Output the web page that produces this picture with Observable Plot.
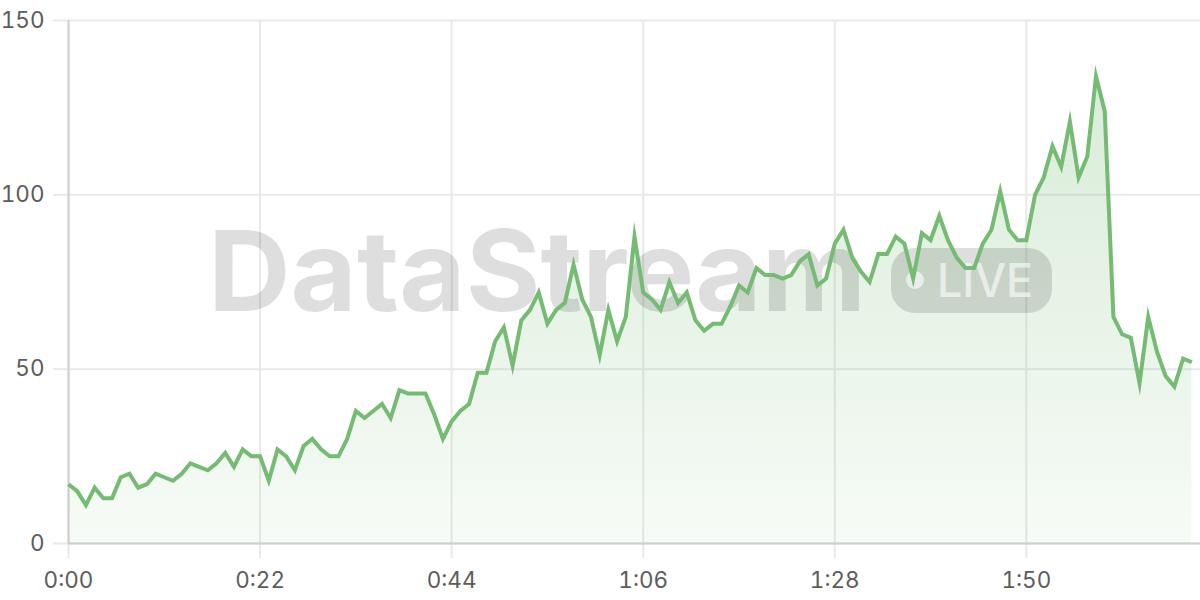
<!DOCTYPE html>
<html>
<head>
<meta charset="utf-8">
<script src="https://cdn.jsdelivr.net/npm/d3@7"></script>
<script src="https://cdn.jsdelivr.net/npm/@observablehq/plot@0.6"></script>
<style>
  html, body { margin: 0; padding: 0; background: #ffffff; }
  #chart { width: 1200px; height: 600px; overflow: hidden; }
</style>
</head>
<body>
<div id="chart"></div>
<script>
// Values per second, 0:00 .. 2:09
const values = [
  17, 15, 11, 16, 13, 13, 19, 20, 16, 17,
  20, 19, 18, 20, 23, 22, 21, 23, 26, 22,
  27, 25, 25, 18, 27, 25, 21, 28, 30, 27,
  25, 25, 30, 38, 36, 38, 40, 36, 44, 43,
  43, 43, 37, 30, 35, 38, 40, 49, 49, 58,
  62, 51, 64, 67, 72, 63, 67, 69, 80, 70,
  65, 54, 67, 58, 65, 88, 72, 70, 67, 75,
  69, 72, 64, 61, 63, 63, 68, 74, 72, 79,
  77, 77, 76, 77, 81, 83, 74, 76, 86, 90,
  82, 78, 75, 83, 83, 88, 86, 76, 89, 87,
  94, 87, 82, 79, 79, 86, 90, 101, 90, 87,
  87, 100, 105, 114, 108, 121, 105, 111, 134, 124,
  65, 60, 59, 46, 65, 55, 48, 45, 53, 52
];
const xTicks = [0, 22, 44, 66, 88, 110];
const xTickLabels = ["0:00", "0:22", "0:44", "1:06", "1:28", "1:50"];
const yTicks = [0, 50, 100, 150];
const watermarkTitle = "DataStream";
const watermarkBadge = "LIVE";

const data = values.map((v, i) => ({ t: i, v }));

const lineColor = "#76bb74";
const gridColor = "#e9e9e9";
const axisColor = "#d0d0d0";
const labelColor = "#5c5c5c";

const chart = Plot.plot({
  width: 1200,
  height: 600,
  marginTop: 20,
  marginLeft: 68,
  marginRight: 0,
  marginBottom: 57,
  style: { fontFamily: "Inter, 'Noto Sans', sans-serif", fontSize: "22px", background: "#ffffff", color: labelColor },
  x: { domain: [0, 130], ticks: xTicks },
  y: { domain: [0, 150], ticks: yTicks },
  marks: [
    Plot.gridX(xTicks, { stroke: gridColor, strokeOpacity: 1, strokeWidth: 2 }),
    Plot.gridY(yTicks, { stroke: gridColor, strokeOpacity: 1, strokeWidth: 2 }),
    Plot.axisX(xTicks, {
      tickSize: 15, tickPadding: 14, stroke: gridColor, strokeWidth: 2, strokeOpacity: 1,
      fill: labelColor, fontSize: 22.5, label: null,
      tickFormat: d => xTickLabels[xTicks.indexOf(d)]
    }),
    Plot.axisY(yTicks, {
      tickSize: 15, tickPadding: 9, stroke: gridColor, strokeWidth: 2, strokeOpacity: 1,
      fill: labelColor, fontSize: 22.5, label: null
    }),
    Plot.ruleX([0], { stroke: axisColor, strokeWidth: 2 }),
    Plot.ruleY([0], { stroke: axisColor, strokeWidth: 2 }),
    Plot.areaY(data, { x: "t", y: "v", fill: "url(#dsFill)", fillOpacity: 1 }),
    Plot.lineY(data, {
      x: "t", y: "v", stroke: lineColor, strokeWidth: 4,
      strokeLinejoin: "miter", strokeMiterlimit: 10, strokeLinecap: "butt"
    })
  ]
});

// gradient definition
const ns = "http://www.w3.org/2000/svg";
const svg = chart.tagName.toLowerCase() === "svg" ? chart : chart.querySelector("svg");
const defs = document.createElementNS(ns, "defs");
const grad = document.createElementNS(ns, "linearGradient");
grad.setAttribute("id", "dsFill");
grad.setAttribute("x1", "0"); grad.setAttribute("y1", "0");
grad.setAttribute("x2", "0"); grad.setAttribute("y2", "1");
[["0", 0.28], ["1", 0.06]].forEach(([o, a]) => {
  const s = document.createElementNS(ns, "stop");
  s.setAttribute("offset", o);
  s.setAttribute("stop-color", lineColor);
  s.setAttribute("stop-opacity", a);
  grad.appendChild(s);
});
defs.appendChild(grad);
svg.insertBefore(defs, svg.firstChild);

// watermark between area and line
const wm = document.createElementNS(ns, "g");
wm.setAttribute("aria-label", "watermark");
wm.setAttribute("text-anchor", "start");
const t1 = document.createElementNS(ns, "text");
t1.textContent = watermarkTitle;
t1.setAttribute("x", 208);
t1.setAttribute("y", 311);
t1.setAttribute("text-anchor", "start");
t1.setAttribute("font-size", 112);
t1.setAttribute("font-weight", 700);
t1.setAttribute("font-family", "Inter, 'Noto Sans', sans-serif");
t1.setAttribute("textLength", 658);
t1.setAttribute("lengthAdjust", "spacingAndGlyphs");
t1.setAttribute("fill", "rgba(0,0,0,0.13)");
wm.appendChild(t1);
const r = document.createElementNS(ns, "rect");
r.setAttribute("x", 891); r.setAttribute("y", 248);
r.setAttribute("width", 161); r.setAttribute("height", 65);
r.setAttribute("rx", 24);
r.setAttribute("fill", "rgba(0,0,0,0.13)");
wm.appendChild(r);
const c = document.createElementNS(ns, "circle");
c.setAttribute("cx", 915); c.setAttribute("cy", 280); c.setAttribute("r", 9);
c.setAttribute("fill", "rgba(255,255,255,0.6)");
wm.appendChild(c);
const t2 = document.createElementNS(ns, "text");
t2.textContent = watermarkBadge;
t2.setAttribute("x", 937);
t2.setAttribute("y", 297);
t2.setAttribute("text-anchor", "start");
t2.setAttribute("font-size", 46);
t2.setAttribute("font-weight", 500);
t2.setAttribute("font-family", "Inter, 'Noto Sans', sans-serif");
t2.setAttribute("textLength", 96);
t2.setAttribute("lengthAdjust", "spacingAndGlyphs");
t2.setAttribute("fill", "rgba(255,255,255,0.6)");
wm.appendChild(t2);

const areaG = svg.querySelector('g[aria-label="area"]');
areaG.parentNode.insertBefore(wm, areaG.nextSibling);

document.getElementById("chart").appendChild(chart);
</script>
</body>
</html>
